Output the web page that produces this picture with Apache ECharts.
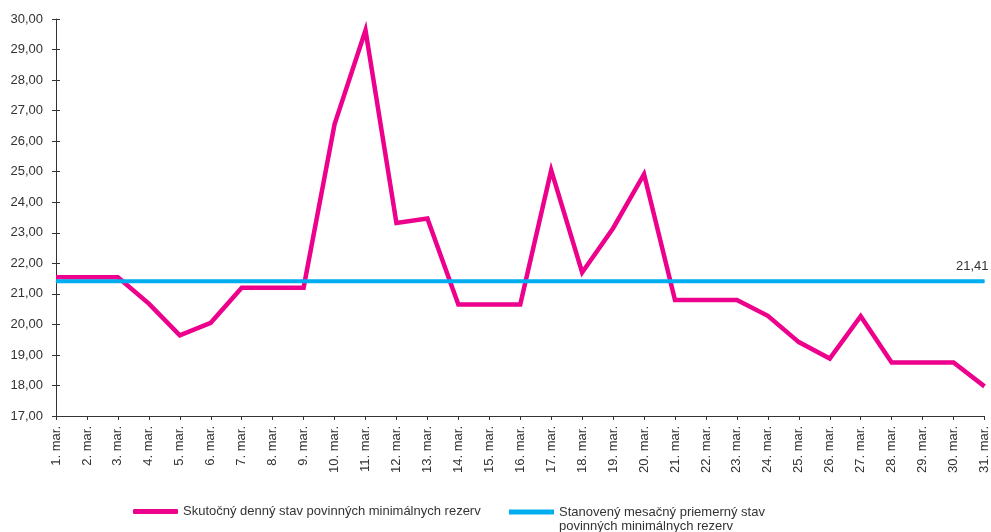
<!DOCTYPE html>
<html>
<head>
<meta charset="utf-8">
<script src="https://cdn.jsdelivr.net/npm/echarts@6/dist/echarts.min.js"></script>
<style>
html,body{margin:0;padding:0;background:#fff;}
#c{width:991px;height:532px;}
</style>
</head>
<body>
<div id="c"></div>
<script>
var days = ['1. mar.','2. mar.','3. mar.','4. mar.','5. mar.','6. mar.','7. mar.','8. mar.','9. mar.','10. mar.','11. mar.','12. mar.','13. mar.','14. mar.','15. mar.','16. mar.','17. mar.','18. mar.','19. mar.','20. mar.','21. mar.','22. mar.','23. mar.','24. mar.','25. mar.','26. mar.','27. mar.','28. mar.','29. mar.','30. mar.','31. mar.'];
var actual = [21.54,21.54,21.54,20.68,19.64,20.05,21.20,21.20,21.20,26.55,29.63,23.32,23.47,20.65,20.65,20.65,25.05,21.70,23.15,24.92,20.80,20.80,20.80,20.28,19.42,18.88,20.27,18.75,18.75,18.75,17.97];
var required = 21.41;
var seriesNames = ['Skutočný denný stav povinných minimálnych rezerv','Stanovený mesačný priemerný stav povinných minimálnych rezerv'];
var legend2Text = 'Stanovený mesačný priemerný stav\npovinných minimálnych rezerv';

var font = 'Liberation Sans, Arial, sans-serif';
var requiredData = days.map(function(d, i){
  if (i === days.length - 1) {
    return {value: required, label: {show: true, position: 'top', align: 'right', offset: [4, -3],
      formatter: function(p){ return p.value.toFixed(2).replace('.', ','); },
      color: '#333', fontSize: 13, fontFamily: font}};
  }
  return required;
});

var chart = echarts.init(document.getElementById('c'));
chart.setOption({
  animation: false,
  textStyle: {fontFamily: font},
  grid: {left: 56, right: 1, top: 19, bottom: 116, containLabel: false},
  legend: [
    {left: 133, top: 505, padding: 0, icon: 'roundRect', itemWidth: 45, itemHeight: 5,
     data: [seriesNames[0]], textStyle: {fontSize: 13, color: '#333', fontFamily: font}},
    {left: 509, top: 505, padding: 0,
     icon: 'path://M0,4.5L45,4.5L45,9.5L0,9.5Z M0,0L0.01,0L0,0.01Z M0,28L0.01,28L0,27.99Z',
     itemWidth: 45, itemHeight: 28,
     data: [seriesNames[1]],
     formatter: function(){ return legend2Text; },
     textStyle: {fontSize: 13, color: '#333', lineHeight: 14, fontFamily: font}}
  ],
  xAxis: {
    type: 'category', data: days, boundaryGap: false,
    axisLine: {lineStyle: {color: '#333', width: 1}},
    axisTick: {show: true, length: 4, alignWithLabel: true, lineStyle: {color: '#333'}},
    axisLabel: {rotate: 90, interval: 0, fontSize: 13, color: '#333', margin: 10, fontFamily: font},
    splitLine: {show: false}
  },
  yAxis: [{
    type: 'value', min: 17, max: 30, interval: 1,
    axisLine: {show: true, lineStyle: {color: '#333', width: 1}},
    axisTick: {show: true, length: 4, lineStyle: {color: '#333'}},
    axisLabel: {fontSize: 13, color: '#333', margin: 13, fontFamily: font,
      formatter: function(v){ return v.toFixed(2).replace('.', ','); }},
    splitLine: {show: false}
  }, {
    type: 'value', min: 17, max: 30, interval: 1, position: 'left',
    axisLine: {show: false},
    axisTick: {show: true, inside: true, length: 4, lineStyle: {color: '#333'}},
    axisLabel: {show: false},
    splitLine: {show: false}
  }],
  series: [
    {name: seriesNames[0], type: 'line', data: actual, symbol: 'none', z: 2,
     lineStyle: {color: '#EC008C', width: 4.5, join: 'miter'}, itemStyle: {color: '#EC008C'}},
    {name: seriesNames[1], type: 'line', data: requiredData, symbol: 'circle', symbolSize: 1, showSymbol: true, z: 3,
     lineStyle: {color: '#00AEEF', width: 4}, itemStyle: {color: '#00AEEF'}}
  ]
});
</script>
</body>
</html>
